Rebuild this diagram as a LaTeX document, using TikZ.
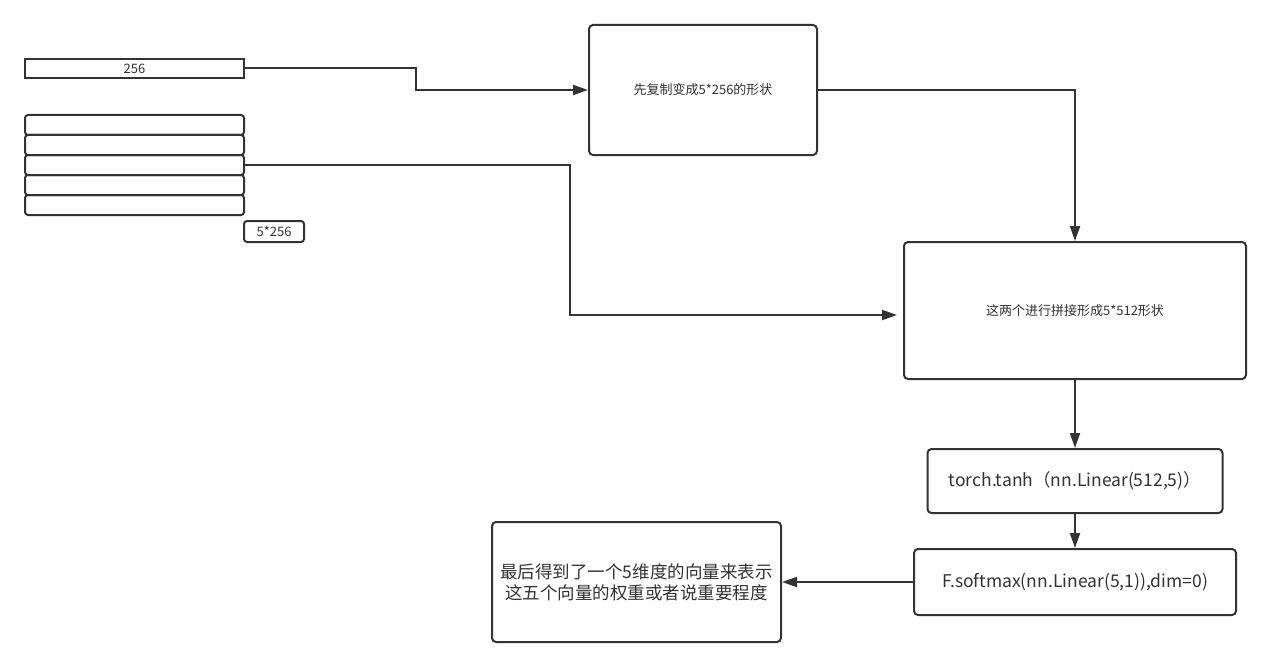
\documentclass[tikz,border=0pt]{standalone}
\usepackage{fontspec}
\setmainfont{Noto Sans CJK SC}
\usetikzlibrary{arrows.meta}
\definecolor{ink}{HTML}{333333}
\begin{document}
\begin{tikzpicture}[x=1pt,y=-1pt,
  box/.style={draw=ink,line width=2pt,rounded corners=4pt,inner sep=0pt,text=ink,align=center},
  bar/.style={draw=ink,line width=2pt,rounded corners=3pt,inner sep=0pt,minimum width=219pt,minimum height=20pt},
  arr/.style={draw=ink,line width=2pt,-{Triangle[length=15pt,width=10pt]}},
  small/.style={font=\fontsize{13}{15}\selectfont},
  big/.style={font=\fontsize{17.5}{21}\selectfont}]
\useasboundingbox (0,0) rectangle (1271,666);
\fill[white] (0,0) rectangle (1271,666);
\node[box,rounded corners=0pt,minimum width=219pt,minimum height=19pt,small] (b256) at (134.5,68.5) {\raisebox{-1.5pt}{256}};
\node[bar] (s1) at (134.5,125) {};
\node[bar] (s2) at (134.5,145) {};
\node[bar] (s3) at (134.5,165) {};
\node[bar] (s4) at (134.5,185) {};
\node[bar] (s5) at (134.5,205) {};
\node[box,rounded corners=3pt,minimum width=60pt,minimum height=21pt,small] (lbl) at (274,231.5) {5*256};
\node[box,minimum width=228pt,minimum height=130pt,small] (box1) at (703,90) {\raisebox{-1pt}{先复制变成5*256的形状}};
\node[box,minimum width=342pt,minimum height=137pt,small] (box2) at (1075,310.5) {\raisebox{-1pt}{这两个进行拼接形成5*512形状}};
\node[box,minimum width=295pt,minimum height=64pt,big] (box3) at (1075,481) {torch.tanh（nn.Linear(512,5)）};
\node[box,minimum width=322pt,minimum height=66pt,big] (box4) at (1075,582) {F.softmax(nn.Linear(5,1)),dim=0)};
\node[box,minimum width=289pt,minimum height=120pt,big] (box5) at (636.5,582) {最后得到了一个5维度的向量来表示\\这五个向量的权重或者说重要程度};
\coordinate (c2) at (897,315);
\draw[arr] (b256.east) -- (416,68.5) |- (box1.west);
\draw[arr] (box1.east) -| (box2.north);
\draw[arr] (s3.east) -- (570,165) |- (c2);
\draw[arr] (box2.south) -- (box3.north);
\draw[arr] (box3.south) -- (box4.north);
\draw[arr] (box4.west) -- (box5.east);
\end{tikzpicture}
\end{document}
